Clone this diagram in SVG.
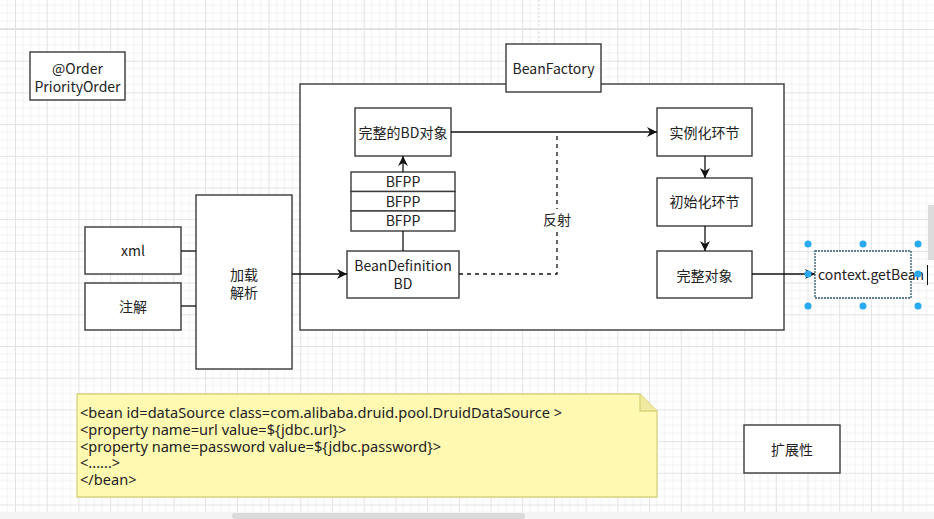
<svg xmlns="http://www.w3.org/2000/svg" width="934" height="519" viewBox="0 0 934 519">
<defs>
<pattern id="grid" x="15" y="29" width="31.7" height="31.7" patternUnits="userSpaceOnUse">
<path d="M7.9 0V31.7M15.85 0V31.7M23.8 0V31.7M0 7.9H31.7M0 15.85H31.7M0 23.8H31.7" stroke="#f1f1f1" stroke-width="1" fill="none"/>
<path d="M0.5 0V31.7M0 0.5H31.7" stroke="#e2e2e2" stroke-width="1" fill="none"/>
</pattern>
<marker id="arr" viewBox="0 0 10 10" refX="10" refY="5" markerWidth="10" markerHeight="10" markerUnits="userSpaceOnUse" orient="auto">
<path d="M0,0 L10,5 L0,10 L3,5 z" fill="#111"/>
</marker>
<style>
.box{fill:#fff;stroke:#3a3a3a;stroke-width:1.4}
.t{font-family:"Noto Sans CJK SC","Noto Sans",sans-serif;font-size:14px;fill:#222;text-anchor:middle}
.code{font-family:"Noto Sans","Noto Sans CJK SC",sans-serif;font-size:14.6px;fill:#222}
.ln{fill:none;stroke:#111;stroke-width:1.3}
.dash{fill:none;stroke:#111;stroke-width:1.3;stroke-dasharray:4,4}
.h{fill:#29a9f0}
</style>
</defs>
<rect width="934" height="519" fill="#fff"/>
<rect width="934" height="519" fill="url(#grid)"/>
<line x1="0" y1="29" x2="860" y2="29" stroke="#dedede" stroke-width="1.5"/>
<line x1="539" y1="0" x2="539" y2="84" stroke="#e0e0e0" stroke-dasharray="2,2"/>

<g id="order"><rect class="box" x="30" y="52" width="95" height="48"/><text class="t" x="77.5" y="74">@Order</text><text class="t" x="77.5" y="92">PriorityOrder</text></g>

<g id="beanfactory-container"><rect class="box" x="300" y="84" width="484" height="246"/></g>
<g id="beanfactory"><rect class="box" x="506" y="44" width="95" height="48"/><text class="t" x="553.5" y="74">BeanFactory</text></g>

<g id="xml"><rect class="box" x="85" y="227" width="96" height="47"/><text class="t" x="133" y="256">xml</text></g>
<g id="annotation"><rect class="box" x="85" y="283" width="96" height="47"/><text class="t" x="133" y="312">注解</text></g>
<g id="load"><rect class="box" x="196" y="195" width="96" height="174"/><text class="t" x="244" y="280">加载</text><text class="t" x="244" y="298">解析</text></g>

<g id="fullbd"><rect class="box" x="355" y="108" width="96" height="48"/><text class="t" x="403" y="138">完整的BD对象</text></g>
<g id="bfpp1"><rect class="box" x="351" y="172" width="104" height="19.5"/><text class="t" x="403" y="187">BFPP</text></g>
<g id="bfpp2"><rect class="box" x="351" y="191.5" width="104" height="19.5"/><text class="t" x="403" y="206.5">BFPP</text></g>
<g id="bfpp3"><rect class="box" x="351" y="211" width="104" height="20"/><text class="t" x="403" y="226">BFPP</text></g>
<g id="bd"><rect class="box" x="347" y="251" width="112" height="47"/><text class="t" x="403" y="271">BeanDefinition</text><text class="t" x="403" y="289">BD</text></g>

<g id="instantiate"><rect class="box" x="657" y="108" width="95" height="48"/><text class="t" x="704.5" y="138">实例化环节</text></g>
<g id="init"><rect class="box" x="657" y="178" width="95" height="48"/><text class="t" x="704.5" y="207">初始化环节</text></g>
<g id="fullobj"><rect class="box" x="657" y="251" width="95" height="47"/><text class="t" x="704.5" y="281">完整对象</text></g>

<g id="connectors">
<path class="ln" d="M181 251H196"/>
<path class="ln" d="M181 306H196"/>
<path class="ln" d="M292 274H347" marker-end="url(#arr)"/>
<path class="ln" d="M403 251V231"/>
<path class="ln" d="M403 172V156" marker-end="url(#arr)"/>
<path class="ln" d="M451 132H657" marker-end="url(#arr)"/>
<path class="dash" d="M459 274H557V132"/>
<path class="ln" d="M705 156V178" marker-end="url(#arr)"/>
<path class="ln" d="M705 226V251" marker-end="url(#arr)"/>
<path class="ln" d="M752 274H815" marker-end="url(#arr)"/>
</g>
<rect x="537" y="209" width="40" height="22" fill="#fff"/>
<text class="t" x="557" y="225">反射</text>

<g id="getbean"><rect x="815" y="251" width="96" height="47" fill="#fff" stroke="#2b5670" stroke-width="1.3" stroke-dasharray="2,1"/><text class="t" x="818" y="280" style="text-anchor:start">context.getBean</text><line x1="927.5" y1="265" x2="927.5" y2="285" stroke="#111" stroke-width="1"/></g>
<g id="handles">
<circle class="h" cx="808" cy="244" r="3.5"/><circle class="h" cx="863" cy="244" r="3.5"/><circle class="h" cx="918" cy="244" r="3.5"/>
<circle class="h" cx="808" cy="274" r="3.5"/><circle class="h" cx="918" cy="274" r="3.5"/>
<circle class="h" cx="808" cy="306" r="3.5"/><circle class="h" cx="863" cy="306" r="3.5"/><circle class="h" cx="918" cy="306" r="3.5"/>
</g>

<g id="note">
<path d="M77 394H640L657 411V497H77Z" fill="#fff9b2" stroke="#d8d27c" stroke-width="1.3"/>
<path d="M640 394V411H657" fill="#f0eaa0" stroke="#d8d27c" stroke-width="1.3"/>
<text class="code" x="80" y="418">&lt;bean id=dataSource class=com.alibaba.druid.pool.DruidDataSource &gt;</text>
<text class="code" x="80" y="435">&lt;property name=url value=${jdbc.url}&gt;</text>
<text class="code" x="80" y="451.5">&lt;property name=password value=${jdbc.password}&gt;</text>
<text class="code" x="80" y="468">&lt;......&gt;</text>
<text class="code" x="80" y="484.5">&lt;/bean&gt;</text>
</g>

<g id="extensibility"><rect class="box" x="744" y="425" width="96" height="48"/><text class="t" x="792" y="455">扩展性</text></g>

<rect x="928" y="205" width="6" height="55" fill="#dcdcdc"/>
<rect x="0" y="512" width="934" height="7" fill="#f4f4f4"/>
<rect x="232" y="513" width="293" height="6" rx="3" fill="#dadada"/>
</svg>
